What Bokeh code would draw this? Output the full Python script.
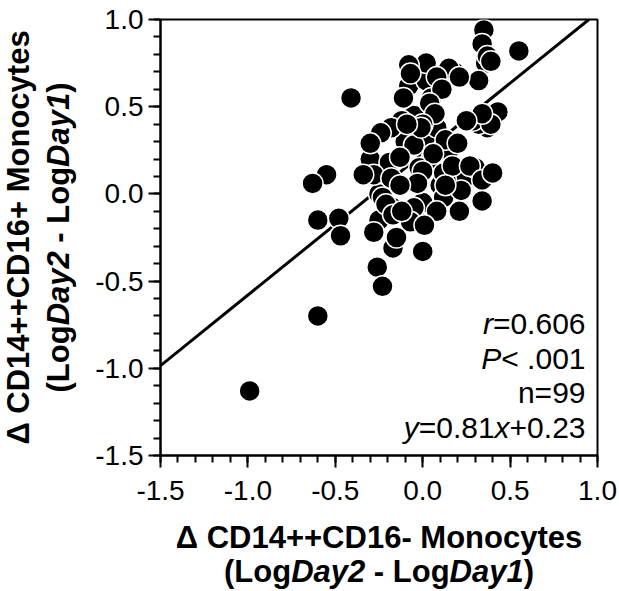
import math
from bokeh.plotting import figure
from bokeh.models import Range1d, FixedTicker, Label
from bokeh.layouts import row, column
from bokeh.core.properties import value
from bokeh.embed import file_html
from bokeh.resources import INLINE

# ---------------- data ----------------
x_vals = [-0.05, 0.02, -0.10, 0.05, -0.02, 0.10, 0.20, 0.25, 0.30, -0.15,
          -0.20, -0.25, 0.00, 0.12, 0.35, 0.37, 0.32, -0.08, 0.02, 0.18,
          -0.12, 0.08, 0.15, -0.30, 0.22, -0.05, 0.36, 0.05,
          0.35, 0.34, 0.37, 0.39, 0.55, 0.32, 0.02, -0.08, -0.07, 0.15,
          0.21, 0.08, 0.11, -0.41, -0.11, 0.04, 0.07, 0.00, 0.29, 0.43,
          0.39, 0.34, 0.25, -0.18, -0.24, -0.30, -0.05, 0.13, 0.20, -0.01,
          -0.09, 0.06, -0.19, -0.13, 0.00, 0.12, 0.17, 0.27, 0.34, 0.40,
          0.34, 0.21, 0.08, -0.05, -0.07, -0.03, -0.23, -0.28, -0.34, -0.18,
          -0.25, -0.17, -0.55, -0.63, -0.60, -0.48, -0.13, 0.13,
          -0.47, -0.28, -0.17, -0.15, 0.01, 0.00, -0.26, -0.23, -0.60, -0.99,
          -0.21, -0.17, -0.12]
y_vals = [0.45, 0.33, 0.30, 0.20, 0.15, 0.05, 0.12, 0.10, 0.15, 0.05,
          0.10, 0.00, -0.05, -0.02, 0.42, 0.38, 0.40, 0.62, 0.65, 0.70,
          0.42, 0.38, 0.25, 0.20, 0.02, -0.12, 0.75, 0.55,
          0.94, 0.86, 0.79, 0.76, 0.82, 0.65, 0.75, 0.74, 0.69, 0.72,
          0.67, 0.67, 0.60, 0.55, 0.55, 0.52, 0.46, 0.40, 0.42, 0.47,
          0.40, 0.46, 0.42, 0.38, 0.35, 0.29, 0.28, 0.31, 0.29, 0.38,
          0.40, 0.23, 0.18, 0.21, 0.13, 0.12, 0.16, 0.16, 0.08, 0.12,
          -0.04, -0.10, -0.10, -0.08, -0.16, 0.06, -0.02, 0.11, 0.11, 0.09,
          -0.15, -0.08, 0.11, 0.06, -0.15, -0.14, 0.05, 0.05,
          -0.24, -0.22, -0.31, -0.25, -0.18, -0.33, -0.42, -0.53, -0.70, -1.13,
          -0.06, -0.12, -0.10]

slope = 0.81
intercept = 0.23

major_ticks = [-1.5, -1.0, -0.5, 0.0, 0.5, 1.0]
tick_labels = ["-1.5", "-1.0", "-0.5", "0.0", "0.5", "1.0"]
minor_ticks = [round(-1.5 + 0.1 * i, 1) for i in range(26)]

x_title_1 = "\u0394 CD14++CD16- Monocytes"
y_title_1 = "\u0394 CD14++CD16+ Monocytes"
title_2_parts = [("(Log", False), ("Day2", True), (" - Log", False), ("Day1", True), (")", False)]
stats_lines = [
    [("r", True), ("=0.606", False)],
    [("P", True), ("< .001", False)],
    [("n=99", False)],
    [("y", True), ("=0.81", False), ("x", True), ("+0.23", False)],
]

# ---------------- layout (page pixels) ----------------
PW, PH = 619, 591
YT_W = 92
MAIN_H = 520
F_L, F_R, F_T, F_B = 160, 597, 19, 455
X0, X1, Y0, Y1 = -1.5, 1.0, -1.5, 1.0
FONT = "Liberation Sans"
TS = 31   # title font size
SS = 30   # stats font size
MID = 0.36  # rendered anchor sits this many em above the baseline

BOLD_W = {" ": 278, "(": 333, ")": 333, "+": 584, "-": 333, ".": 278, "=": 584, "<": 584,
          "C": 722, "D": 722, "L": 611, "M": 833, "P": 667, "a": 556, "c": 556, "e": 556,
          "g": 611, "n": 611, "o": 611, "s": 556, "t": 333, "y": 556, "x": 556, "r": 389,
          "\u0394": 722}
REG_W = {" ": 278, "(": 333, ")": 333, "+": 584, "-": 333, ".": 278, "=": 584, "<": 584,
         "P": 667, "n": 556, "r": 333, "x": 500, "y": 500}

def tw(s, size, bold):
    tab = BOLD_W if bold else REG_W
    return sum(tab.get(c, 556) for c in s) * size / 1000.0

def style_of(bold, italic):
    if bold and italic:
        return "bold italic"
    if bold:
        return "bold"
    return "italic" if italic else "normal"

# ---------------- main plot ----------------
MW = PW - YT_W
p = figure(width=MW, height=MAIN_H, output_backend="svg", toolbar_location=None,
           x_range=Range1d(X0, X1), y_range=Range1d(Y0, Y1),
           min_border_left=F_L - YT_W, min_border_right=PW - F_R,
           min_border_top=F_T, min_border_bottom=MAIN_H - F_B)
p.xgrid.visible = False
p.ygrid.visible = False
p.outline_line_color = "black"
p.outline_line_width = 2
p.background_fill_color = "white"
p.border_fill_color = "white"

for ax in (p.xaxis[0], p.yaxis[0]):
    ax.ticker = FixedTicker(ticks=major_ticks, minor_ticks=minor_ticks)
    ax.major_label_overrides = {t: l for t, l in zip(major_ticks, tick_labels)}
    ax.major_tick_in = 0
    ax.major_tick_out = 12
    ax.minor_tick_in = 0
    ax.minor_tick_out = 7
    ax.axis_line_width = 2
    ax.major_tick_line_width = 2
    ax.minor_tick_line_width = 2
    ax.axis_line_color = "black"
    ax.major_tick_line_color = "black"
    ax.minor_tick_line_color = "black"
    ax.major_label_text_font = FONT
    ax.major_label_text_font_size = "28px"
    ax.major_label_text_color = "black"
p.xaxis[0].major_label_standoff = 13
p.yaxis[0].major_label_standoff = 5

lx = [X0, (Y1 - intercept) / slope]
ly = [slope * v + intercept for v in lx]
p.line(lx, ly, line_color="black", line_width=3)

p.scatter(x_vals, y_vals, size=21, fill_color="black", line_color="white", line_width=1.5)

def dx(px):
    return X0 + (px - F_L) * (X1 - X0) / (F_R - F_L)

def dy(py):
    return Y0 + (F_B - py) * (Y1 - Y0) / (F_B - F_T)

right = 585
baselines = [334, 369, 403, 438]
for parts, bl in zip(stats_lines, baselines):
    xr = right
    for s, it in reversed(parts):
        p.add_layout(Label(x=dx(xr), y=dy(bl - MID * SS), text=s, text_font=FONT,
                           text_font_size=f"{SS}px", text_font_style=style_of(False, it),
                           text_color="black", text_align="right", text_baseline="alphabetic"))
        xr -= tw(s, SS, False)

def put(f, x, y, text, bold, italic, align="left", angle=0.0):
    f.text(x=[x], y=[y], text=[text], text_font=value(FONT), text_font_size=value(f"{TS}px"),
           text_font_style=style_of(bold, italic), text_color="black",
           text_align=align, text_baseline="alphabetic", angle=angle)

total2 = sum(tw(s, TS, True) for s, _ in title_2_parts)

# ---------------- x title strip (frame aligned with the plot frame) ----------------
XT_H = PH - MAIN_H
xt = figure(width=MW, height=XT_H, output_backend="svg", toolbar_location=None,
            x_range=Range1d(F_L, F_R), y_range=Range1d(0, XT_H),
            x_axis_location=None, y_axis_location=None,
            min_border_left=F_L - YT_W, min_border_right=PW - F_R,
            min_border_top=0, min_border_bottom=0)
xt.xgrid.visible = False
xt.ygrid.visible = False
xt.outline_line_color = None
xt.background_fill_color = "white"
xt.border_fill_color = "white"
cx = (F_L + F_R) / 2.0
put(xt, cx, PH - (548 - MID * TS), x_title_1, True, False, align="center")
off = cx - total2 / 2.0
for s, it in title_2_parts:
    lead = len(s) - len(s.lstrip(" "))
    put(xt, off + tw(s[:lead], TS, True), PH - (582 - MID * TS), s.strip(" "), True, it)
    off += tw(s, TS, True)

# ---------------- y title strip ----------------
yt = figure(width=YT_W, height=PH, output_backend="svg", toolbar_location=None,
            x_range=Range1d(0, YT_W), y_range=Range1d(0, PH),
            x_axis_location=None, y_axis_location=None,
            min_border_left=0, min_border_right=0, min_border_top=0, min_border_bottom=0)
yt.xgrid.visible = False
yt.ygrid.visible = False
yt.outline_line_color = None
yt.background_fill_color = "white"
yt.border_fill_color = "white"
cy = PH - (F_T + F_B) / 2.0
ang = math.pi / 2
put(yt, 29 - MID * TS, cy, y_title_1, True, False, align="center", angle=ang)
off = cy - total2 / 2.0
for s, it in title_2_parts:
    lead = len(s) - len(s.lstrip(" "))
    put(yt, 69 - MID * TS, off + tw(s[:lead], TS, True), s.strip(" "), True, it, angle=ang)
    off += tw(s, TS, True)

layout = row(yt, column(p, xt, spacing=0), spacing=0)
open("out.html", "w").write(file_html(layout, INLINE))
